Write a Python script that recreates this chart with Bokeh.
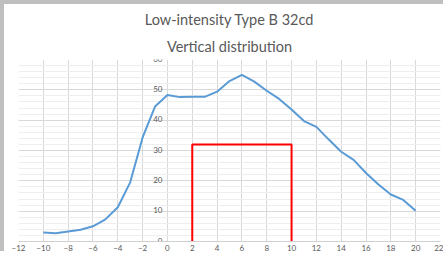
from bokeh.plotting import figure
from bokeh.models import Range1d, FixedTicker, ColumnDataSource, Title
from bokeh.core.properties import value
from bokeh.embed import file_html
from bokeh.resources import INLINE

# Data
angles = [-10, -9, -8, -7, -6, -5, -4, -3, -2, -1, 0, 1, 2, 3, 4, 5, 6, 7, 8, 9,
          10, 11, 12, 13, 14, 15, 16, 17, 18, 19, 20]
intensity = [3.0, 2.7, 3.3, 3.9, 5.0, 7.3, 11.3, 19.5, 34.3, 44.5, 48.3, 47.6, 47.7, 47.7,
             49.4, 52.9, 54.9, 52.7, 49.7, 47.0, 43.5, 39.7, 37.8, 33.6, 29.6, 26.9,
             22.6, 18.8, 15.5, 13.7, 10.1]
box_x = [2, 2, 10, 10]
box_y = [0, 32, 32, 0]
x_ticks = list(range(-12, 23, 2))
y_ticks = [0, 10, 20, 30, 40, 50, 60]
y_minor = list(range(0, 61, 2))
title_1 = "Low-intensity Type B 32cd"
title_2 = "Vertical distribution"

FONT = "Lato"
GRAY = "#595959"

p = figure(width=443, height=251, output_backend="svg", toolbar_location=None,
           x_range=Range1d(-12, 22), y_range=Range1d(0, 60),
           min_border_left=14, min_border_right=7, min_border_top=0, min_border_bottom=14)
p.styles = {"border-left": "4px solid #bfbfbf", "border-top": "4px solid #bfbfbf"}
p.title.text = title_1
p.title.align = "center"
p.title.text_font = FONT
p.title.text_font_size = "14.5px"
p.title.text_font_style = "normal"
p.title.text_color = GRAY
p.title.standoff = 8
p.add_layout(Title(text=title_2, align="center", text_font=FONT, text_font_size="14.5px",
                   text_font_style="normal", text_color=GRAY, standoff=9), "above")
p.outline_line_color = None

p.yaxis.visible = False
p.xaxis.ticker = FixedTicker(ticks=x_ticks)
p.xaxis.axis_line_color = "#d0d0d0"
p.xaxis.major_tick_line_color = None
p.xaxis.major_tick_out = 0
p.xaxis.major_tick_in = 0
p.xaxis.minor_tick_line_color = None
p.xaxis.major_label_text_font = FONT
p.xaxis.major_label_text_font_size = "8px"
p.xaxis.major_label_text_color = GRAY
p.xaxis.major_label_standoff = 3

p.xgrid.ticker = FixedTicker(ticks=x_ticks)
p.xgrid.grid_line_color = "#d9d9d9"
p.ygrid.ticker = FixedTicker(ticks=y_ticks, minor_ticks=y_minor)
p.ygrid.grid_line_color = "#d9d9d9"
p.ygrid.minor_grid_line_color = "#eeeeee"

# y-axis labels at x = 0 (axis crosses at 0)
lab = ColumnDataSource(dict(x=[0] * len(y_ticks), y=y_ticks, t=[str(v) for v in y_ticks]))
p.text(x="x", y="y", text="t", source=lab, x_offset=-5, y_offset=-1,
       text_align="right", text_baseline="middle", text_font=value(FONT),
       text_font_size="8px", text_color=GRAY)

p.line(box_x, box_y, line_color="#ff0000", line_width=2)
p.line(angles, intensity, line_color="#5b9bd5", line_width=2)

open("out.html", "w").write(file_html(p, INLINE))
